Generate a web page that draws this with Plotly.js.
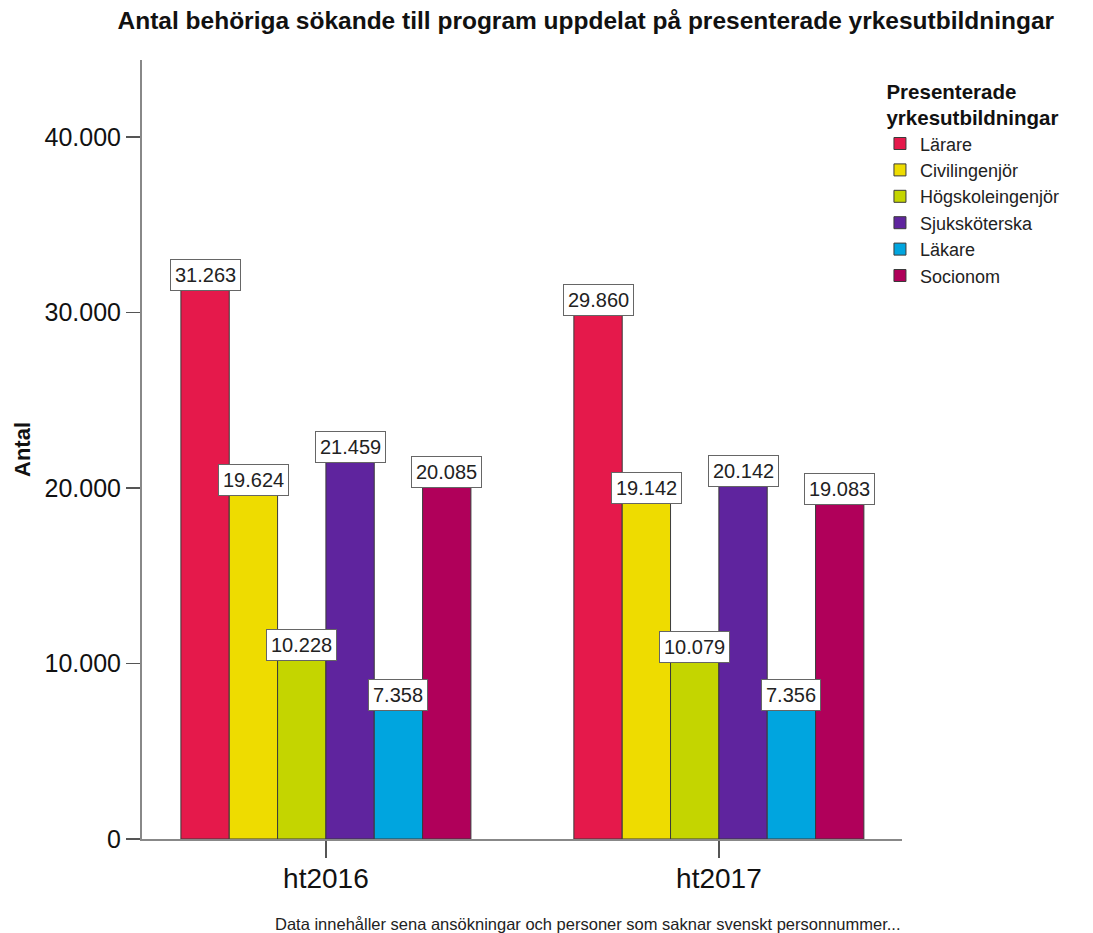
<!DOCTYPE html>
<html>
<head>
<meta charset="utf-8">
<script src="https://cdn.plot.ly/plotly-3.0.1.min.js"></script>
<style>html,body{margin:0;padding:0;background:#fff;}#chart{width:1093px;height:933px;}</style>
</head>
<body>
<div id="chart"></div>
<script>
const periods = ['ht2016', 'ht2017'];
const programs = ['Lärare', 'Civilingenjör', 'Högskoleingenjör', 'Sjuksköterska', 'Läkare', 'Socionom'];
const colors = ['#E5194B', '#EEDC00', '#C4D500', '#5F249E', '#00A5DF', '#B0005A'];
const valLarare = [31263, 29860];
const valCivilingenjor = [19624, 19142];
const valHogskoleingenjor = [10228, 10079];
const valSjukskoterska = [21459, 20142];
const valLakare = [7358, 7356];
const valSocionom = [20085, 19083];
const seriesValues = [valLarare, valCivilingenjor, valHogskoleingenjor, valSjukskoterska, valLakare, valSocionom];
const yTicks = [0, 10000, 20000, 30000, 40000];

const FONT = 'Arial, "Liberation Sans", sans-serif';
const bargap = 0.262;

function fmt(v) {
  return String(v).replace(/\B(?=(\d{3})+(?!\d))/g, '.');
}

const traces = programs.map((name, k) => ({
  type: 'bar',
  name: name,
  x: periods,
  y: seriesValues[k],
  marker: {color: colors[k], line: {color: '#3a3a3a', width: 1}},
  hoverinfo: 'name+y'
}));

const n = programs.length;
const barW = (1 - bargap) / n;
const annotations = [];
seriesValues.forEach((vals, k) => {
  vals.forEach((v, i) => {
    annotations.push({
      x: i + (k - (n - 1) / 2) * barW,
      y: v,
      xref: 'x', yref: 'y',
      text: fmt(v),
      showarrow: false,
      yanchor: 'bottom',
      yshift: -1,
      bgcolor: '#ffffff',
      bordercolor: '#666666',
      borderwidth: 1,
      borderpad: 4,
      font: {family: FONT, size: 20, color: '#222'}
    });
  });
});
annotations.push({
  xref: 'paper', yref: 'paper',
  x: 0.587, y: -0.109,
  xanchor: 'center', yanchor: 'middle',
  showarrow: false,
  text: 'Data innehåller sena ansökningar och personer som saknar svenskt personnummer...',
  font: {family: FONT, size: 16.5, color: '#222'}
});

const layout = {
  width: 1093, height: 933,
  paper_bgcolor: '#ffffff', plot_bgcolor: '#ffffff',
  separators: ',.',
  margin: {l: 142, r: 191, t: 60, b: 94},
  font: {family: FONT, color: '#111'},
  title: {
    text: '<b>Antal behöriga sökande till program uppdelat på presenterade yrkesutbildningar</b>',
    font: {family: FONT, size: 24.5, color: '#111'},
    x: 0.536, xanchor: 'center',
    y: 0.978, yanchor: 'middle', yref: 'container'
  },
  barmode: 'group',
  bargap: bargap,
  bargroupgap: 0,
  xaxis: {
    type: 'category',
    range: [-0.468, 1.466],
    showline: true, linecolor: '#888', linewidth: 2,
    ticks: 'outside', ticklen: 17, tickcolor: '#555', tickwidth: 1.5,
    ticklabelstandoff: -4,
    tickfont: {family: FONT, size: 28, color: '#111'},
    showgrid: false, zeroline: false, fixedrange: true
  },
  yaxis: {
    range: [0, 44390],
    tickvals: yTicks,
    tickformat: ',d',
    showline: true, linecolor: '#888', linewidth: 2,
    ticks: 'outside', ticklen: 14, tickcolor: '#555', tickwidth: 1.5,
    tickfont: {family: FONT, size: 25, color: '#111'},
    showgrid: false, zeroline: false, fixedrange: true,
    title: {text: '<b>Antal</b>', font: {family: FONT, size: 22, color: '#111'}, standoff: 8}
  },
  legend: {
    x: 0.971, xanchor: 'left', y: 1 - 12 / 779, yanchor: 'top',
    title: {text: '<b>Presenterade<br>yrkesutbildningar</b>', font: {family: FONT, size: 20.5, color: '#111'}, side: 'top center'},
    font: {family: FONT, size: 18, color: '#222'},
    tracegroupgap: 0,
    itemwidth: 30,
    bgcolor: 'rgba(0,0,0,0)'
  },
  annotations: annotations,
  showlegend: true
};

Plotly.newPlot('chart', traces, layout, {displayModeBar: false, staticPlot: true});
</script>
</body>
</html>
